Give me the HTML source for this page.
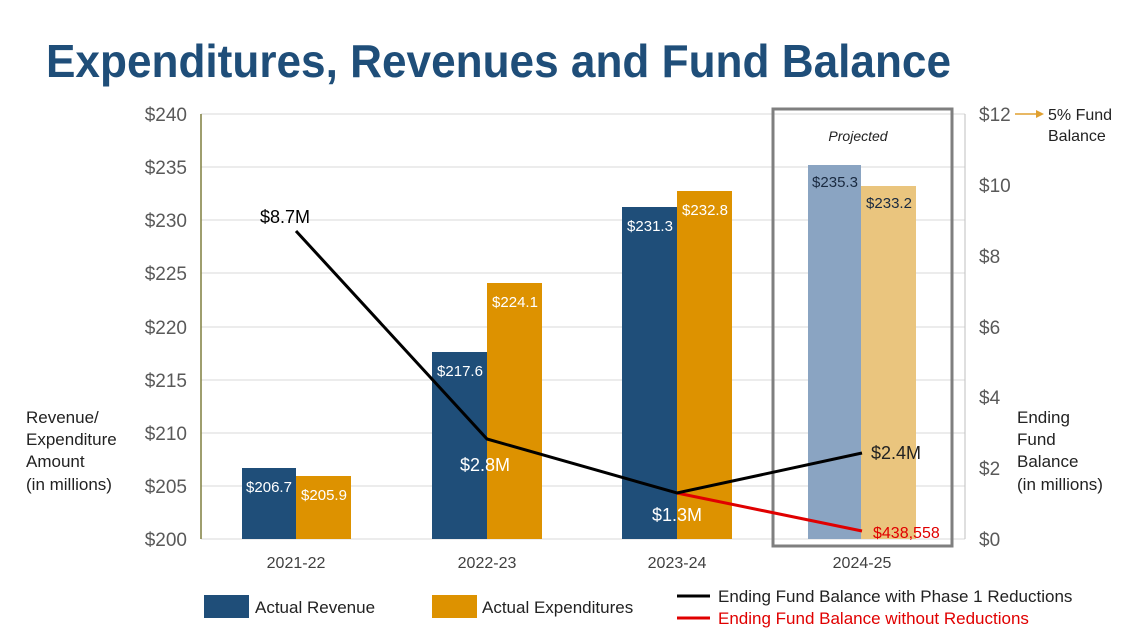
<!DOCTYPE html>
<html><head><meta charset="utf-8"><style>
html,body{margin:0;padding:0;background:#fff;}
svg{display:block;font-family:"Liberation Sans",Arial,sans-serif;}
</style></head><body>
<svg width="1140" height="641" viewBox="0 0 1140 641" xmlns="http://www.w3.org/2000/svg">
<text x="46" y="77" font-size="46" font-weight="bold" fill="#1f4e79" textLength="905" lengthAdjust="spacingAndGlyphs">Expenditures, Revenues and Fund Balance</text>
<g stroke="#d9d9d9" stroke-width="1">
<line x1="201" x2="965" y1="114" y2="114"/><line x1="201" x2="965" y1="167" y2="167"/>
<line x1="201" x2="965" y1="220" y2="220"/><line x1="201" x2="965" y1="273" y2="273"/>
<line x1="201" x2="965" y1="327" y2="327"/><line x1="201" x2="965" y1="380" y2="380"/>
<line x1="201" x2="965" y1="433" y2="433"/><line x1="201" x2="965" y1="486" y2="486"/>
<line x1="201" x2="965" y1="539" y2="539"/>
</g>
<line x1="201" x2="201" y1="114" y2="539" stroke="#7f7f3f" stroke-width="1.5"/>
<line x1="965" x2="965" y1="114" y2="539" stroke="#bfbfbf" stroke-width="1"/>
<g font-size="19" fill="#595959" text-anchor="end">
<text x="187" y="121">$240</text><text x="187" y="174">$235</text><text x="187" y="227">$230</text>
<text x="187" y="280">$225</text><text x="187" y="334">$220</text><text x="187" y="387">$215</text>
<text x="187" y="440">$210</text><text x="187" y="493">$205</text><text x="187" y="546">$200</text>
</g>
<g font-size="19" fill="#595959">
<text x="979" y="121">$12</text><text x="979" y="192">$10</text><text x="979" y="263">$8</text>
<text x="979" y="334">$6</text><text x="979" y="404">$4</text><text x="979" y="475">$2</text>
<text x="979" y="546">$0</text>
</g>
<line x1="1015" x2="1036" y1="114" y2="114" stroke="#e0a030" stroke-width="1.5"/>
<polygon points="1036,110 1044,114 1036,118" fill="#e0a030"/>
<text x="1048" y="120" font-size="16" fill="#222">5% Fund</text>
<text x="1048" y="141" font-size="16" fill="#222">Balance</text>
<g font-size="17" fill="#222">
<text x="26" y="423">Revenue/</text><text x="26" y="445">Expenditure</text>
<text x="26" y="467">Amount</text><text x="26" y="490">(in millions)</text>
<text x="1017" y="423">Ending</text><text x="1017" y="445">Fund</text>
<text x="1017" y="467">Balance</text><text x="1017" y="490">(in millions)</text>
</g>
<rect x="242" y="468" width="54" height="71" fill="#1f4e79"/>
<rect x="296" y="476" width="55" height="63" fill="#dd9200"/>
<rect x="432" y="352" width="55" height="187" fill="#1f4e79"/>
<rect x="487" y="283" width="55" height="256" fill="#dd9200"/>
<rect x="622" y="207" width="55" height="332" fill="#1f4e79"/>
<rect x="677" y="191" width="55" height="348" fill="#dd9200"/>
<rect x="808" y="165" width="53" height="374" fill="#8aa4c2"/>
<rect x="861" y="186" width="55" height="353" fill="#eac57e"/>
<rect x="773" y="109" width="179" height="437" fill="none" stroke="#7f7f7f" stroke-width="3"/>
<text x="858" y="141" font-size="14" font-style="italic" fill="#222" text-anchor="middle">Projected</text>
<g font-size="15" text-anchor="middle">
<text x="269" y="492" fill="#fff">$206.7</text><text x="324" y="500" fill="#fff">$205.9</text>
<text x="460" y="376" fill="#fff">$217.6</text><text x="515" y="307" fill="#fff">$224.1</text>
<text x="650" y="231" fill="#fff">$231.3</text><text x="705" y="215" fill="#fff">$232.8</text>
<text x="835" y="187" fill="#1a2a40">$235.3</text><text x="889" y="208" fill="#1a2a40">$233.2</text>
</g>
<polyline points="677,493 862,531" fill="none" stroke="#e00000" stroke-width="3"/>
<polyline points="296,231 487,439 677,493 862,453" fill="none" stroke="#000" stroke-width="3"/>
<text x="260" y="223" font-size="18" fill="#000">$8.7M</text>
<text x="460" y="471" font-size="18" fill="#fff">$2.8M</text>
<text x="652" y="521" font-size="18" fill="#fff">$1.3M</text>
<text x="871" y="459" font-size="18" fill="#222">$2.4M</text>
<text x="873" y="538" font-size="16" fill="#e00000">$438,558</text>
<g font-size="16" fill="#404040" text-anchor="middle">
<text x="296" y="568">2021-22</text><text x="487" y="568">2022-23</text>
<text x="677" y="568">2023-24</text><text x="862" y="568">2024-25</text>
</g>
<rect x="204" y="595" width="45" height="23" fill="#1f4e79"/>
<text x="255" y="613" font-size="17" fill="#222">Actual Revenue</text>
<rect x="432" y="595" width="45" height="23" fill="#dd9200"/>
<text x="482" y="613" font-size="17" fill="#222">Actual Expenditures</text>
<line x1="677" x2="710" y1="596" y2="596" stroke="#000" stroke-width="3"/>
<text x="718" y="602" font-size="17" fill="#222">Ending Fund Balance with Phase 1 Reductions</text>
<line x1="677" x2="710" y1="618" y2="618" stroke="#e00000" stroke-width="3"/>
<text x="718" y="624" font-size="17" fill="#e00000">Ending Fund Balance without Reductions</text>
</svg>
</body></html>
